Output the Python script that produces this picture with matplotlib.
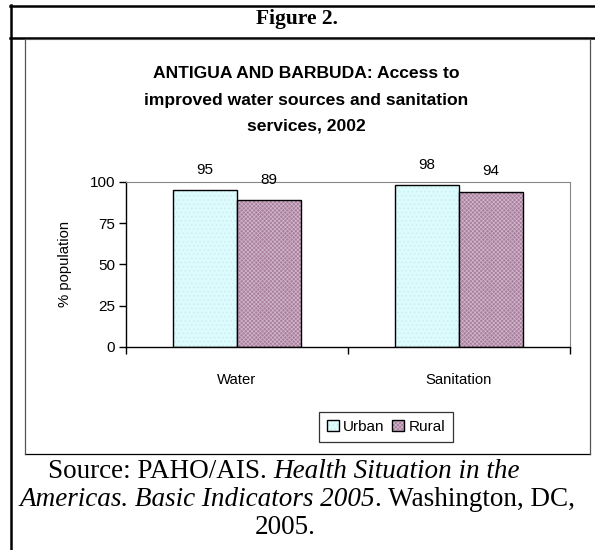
import matplotlib
matplotlib.use('Agg')
import matplotlib.pyplot as plt
import numpy as np
from matplotlib.lines import Line2D

# data
categories = ['Water', 'Sanitation']
urban = [95, 98]
rural = [89, 94]
series_names = ['Urban', 'Rural']
yticks = [0, 25, 50, 75, 100]

W, H = 595, 550
fig = plt.figure(figsize=(W / 100, H / 100), dpi=100)
fig.patch.set_facecolor('white')
plt.rcParams['hatch.linewidth'] = 0.5

def fx(px):
    return px / W

def fy(py):
    return 1 - py / H

# frame lines (table cell look)
def hline(y, x0, x1, lw, c):
    fig.add_artist(Line2D([fx(x0), fx(x1)], [fy(y), fy(y)], lw=lw, color=c, transform=fig.transFigure))

def vline(x, y0, y1, lw, c):
    fig.add_artist(Line2D([fx(x), fx(x)], [fy(y0), fy(y1)], lw=lw, color=c, transform=fig.transFigure))

hline(5.5, 10, 595, 1.8, 'black')
hline(37.5, 10, 595, 1.8, 'black')
vline(11, 5, 550, 1.8, 'black')
# inner chart box
hline(38.5, 24.5, 590, 0.8, '#555555')
hline(454, 24.5, 590, 0.9, 'black')
vline(24.5, 38.5, 454, 0.9, '#555555')
vline(590, 38.5, 454, 0.9, '#555555')

fig.text(fx(297), fy(19), 'Figure 2.', ha='center', va='center',
         fontsize=15.5, fontweight='bold', family='Liberation Serif')

title_lines = ['ANTIGUA AND BARBUDA: Access to',
               'improved water sources and sanitation',
               'services, 2002']
for i, t in enumerate(title_lines):
    fig.text(fx(306), fy(74 + 26 * i), t, ha='center', va='center',
             fontsize=12.6, fontweight='bold', family='Liberation Sans')

ax = fig.add_axes([fx(126), fy(347), fx(570) - fx(126), fy(181.7) - fy(347)])
x = np.arange(len(categories))
bw = 0.288
b1 = ax.bar(x - bw / 2, urban, bw, color='#DDFBFC', edgecolor='black', linewidth=1,
            hatch='....', label=series_names[0])
b2 = ax.bar(x + bw / 2, rural, bw, color='#A97F9F', edgecolor='black', linewidth=1,
            hatch='xxxxxxxx', label=series_names[1])
for b in b1:
    b._hatch_color = matplotlib.colors.to_rgba('#C4EEF0')
for b in b2:
    b._hatch_color = matplotlib.colors.to_rgba('#D2B8CB')

for bars, vals in ((b1, urban), (b2, rural)):
    for b, v in zip(bars, vals):
        ax.annotate(str(v), (b.get_x() + b.get_width() / 2, v), xytext=(0, 14.5),
                    textcoords='offset points', ha='center', va='center',
                    fontsize=11, family='Liberation Sans', annotation_clip=False)

ax.set_xlim(-0.5, 1.5)
ax.set_ylim(0, 100)
ax.set_yticks(yticks)
ax.set_xticks([-0.5, 0.5, 1.5])
ax.set_xticklabels([])
ax.tick_params(axis='y', length=5, width=1, labelsize=11, pad=3)
ax.tick_params(axis='x', length=5, width=1)
for lab in ax.get_yticklabels():
    lab.set_family('Liberation Sans')
for xi, c in zip(x, categories):
    ax.text(xi, -0.198, c, transform=ax.get_xaxis_transform(), ha='center', va='center',
            fontsize=10.7, family='Liberation Sans')
ax.spines['top'].set_color('#888888')
ax.spines['right'].set_color('#888888')
ax.spines['left'].set_linewidth(1)
ax.spines['bottom'].set_linewidth(1)
fig.text(fx(65), fy(264), '% population', rotation=90, ha='center', va='center',
         fontsize=10.7, family='Liberation Sans')

leg = fig.legend(handles=[b1, b2], labels=series_names, loc='center',
                 bbox_to_anchor=(fx(386), fy(427)), ncol=2, frameon=True, fancybox=False,
                 edgecolor='black', handlelength=0.75, handleheight=0.75, handletextpad=0.3,
                 columnspacing=0.5, borderpad=0.55, borderaxespad=0,
                 prop={'family': 'Liberation Sans', 'size': 11})
leg.get_frame().set_linewidth(0.9)

# source note with italic parts
src_lines = [
    ([('Source: PAHO/AIS. ', 'normal'), ('Health Situation in the', 'italic')], 284, 472),
    ([('Americas. Basic Indicators 2005', 'italic'), ('. Washington, DC,', 'normal')], 297, 500),
    ([('2005.', 'normal')], 285, 527),
]
renderer = fig.canvas.get_renderer()
for segs, cx, cy in src_lines:
    texts = []
    for s, st in segs:
        t = fig.text(0, fy(cy), s, ha='left', va='center', fontsize=19.5,
                     family='Liberation Serif', style=st)
        texts.append(t)
    widths = [t.get_window_extent(renderer).width for t in texts]
    xpos = cx - sum(widths) / 2
    for t, w in zip(texts, widths):
        t.set_x(fx(xpos))
        xpos += w

fig.savefig('out.png', dpi=100)
